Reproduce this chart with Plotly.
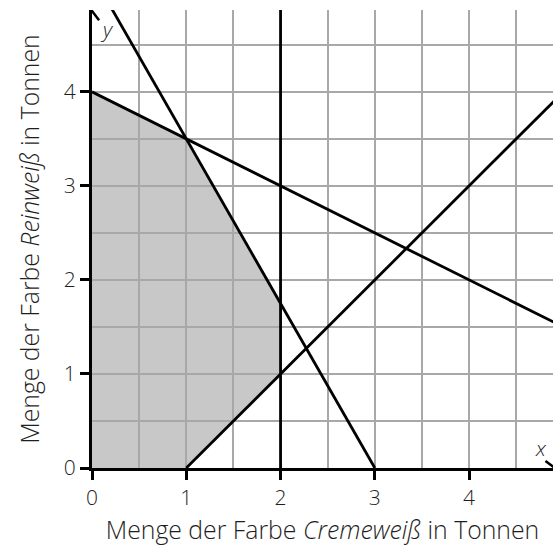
import plotly.graph_objects as go

# constraint lines y = m*x + b, and the vertical line x = 2
line_slopes = [-0.5, -1.75, 1.0]
line_intercepts = [4.0, 5.25, -1.0]
line_x_from = [0.0, 0.0, 1.0]
line_x_to = [5.0, 3.0, 5.0]
vertical_x = 2.0

# feasible region
region_x = [0, 1, 2, 2, 1, 0]
region_y = [0, 0, 1, 1.75, 3.5, 4]

tick_vals = [0, 1, 2, 3, 4]

x_max = 4.89
y_max = 4.87
font = "Open Sans"
text_col = "#1e1e1e"

fig = go.Figure()

for m, b, x0, x1 in zip(line_slopes, line_intercepts, line_x_from, line_x_to):
    fig.add_trace(go.Scatter(x=[x0, x1], y=[m * x0 + b, m * x1 + b], mode="lines",
                             line=dict(color="black", width=2.8), hoverinfo="skip"))

fig.add_trace(go.Scatter(x=[vertical_x, vertical_x], y=[0, 5], mode="lines",
                         line=dict(color="black", width=2.8), hoverinfo="skip"))

# region below the grid
path = "M " + " L ".join(f"{a},{b}" for a, b in zip(region_x, region_y)) + " Z"
fig.add_shape(type="path", path=path, xref="x", yref="y", layer="below",
              fillcolor="#c8c8c8", line=dict(width=0))

# arrow heads
fig.add_trace(go.Scatter(x=[-0.075, 0, 0.075], y=[y_max - 0.11, y_max - 0.01, y_max - 0.11],
                         mode="lines", line=dict(color="black", width=2.5),
                         cliponaxis=False, hoverinfo="skip"))
fig.add_trace(go.Scatter(x=[x_max - 0.08, x_max + 0.02, x_max - 0.08], y=[0.075, 0, -0.075],
                         mode="lines", line=dict(color="black", width=2.5),
                         cliponaxis=False, hoverinfo="skip"))

fig.add_annotation(x=0.06, y=4.67, text="<i>y</i>", showarrow=False,
                   font=dict(family=font, size=21, color=text_col, weight=300), xanchor="left")
fig.add_annotation(x=4.76, y=0.21, text="<i>x</i>", showarrow=False,
                   font=dict(family=font, size=21, color=text_col, weight=300))

fig.update_layout(
    width=553, height=548,
    margin=dict(l=92, r=0, t=10, b=80),
    paper_bgcolor="white", plot_bgcolor="white",
    showlegend=False,
    font=dict(family=font, size=21, color=text_col, weight=300),
)
axis_common = dict(
    tickvals=tick_vals, ticks="outside", ticklen=9, tickwidth=3, tickcolor="black",
    showline=True, linecolor="black", linewidth=3,
    showgrid=True, gridcolor="#a8a8a8", gridwidth=1.5,
    minor=dict(dtick=0.5, tick0=0, showgrid=True, gridcolor="#a8a8a8", gridwidth=1.5),
    zeroline=False, tickfont=dict(size=21, color=text_col, weight=300),
)
fig.update_xaxes(range=[0, x_max], title=dict(text="Menge der Farbe <i>Cremeweiß</i> in Tonnen",
                 standoff=12, font=dict(size=24.8, weight=300)), **axis_common)
fig.update_yaxes(range=[0, y_max], title=dict(text="Menge der Farbe <i>Reinweiß</i> in Tonnen",
                 standoff=18, font=dict(size=24.8, weight=300)), **axis_common)

# drop the page margin so the figure sits at the window's corner
fig.write_html("out.html", config={"displayModeBar": False},
               post_script="document.body.style.margin='0';document.body.style.overflow='hidden';")
